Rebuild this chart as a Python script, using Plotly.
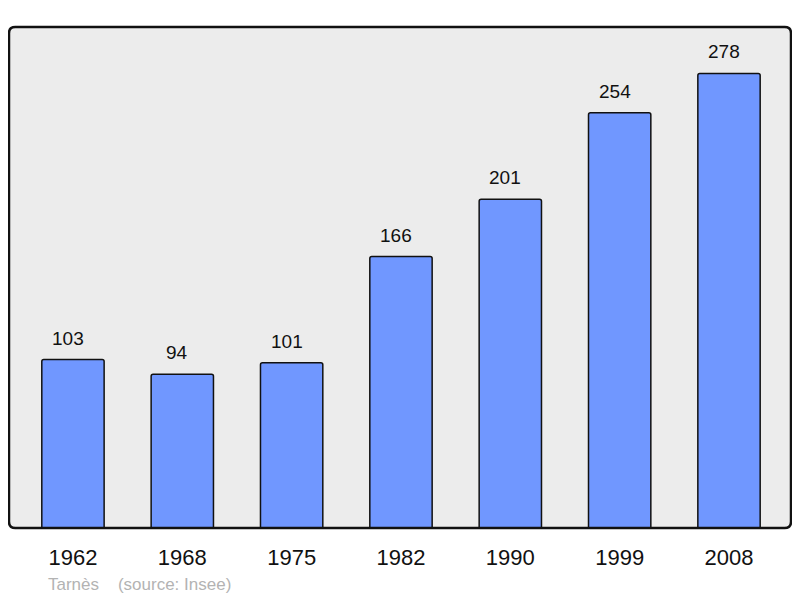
import plotly.graph_objects as go

years = ["1962", "1968", "1975", "1982", "1990", "1999", "2008"]
population = [103, 94, 101, 166, 201, 254, 278]
source_text = "Tarnès\u00a0\u00a0\u00a0\u00a0(source: Insee)"

FONT = "Liberation Sans, Arial, sans-serif"

fig = go.Figure()
fig.add_trace(go.Bar(
    x=list(range(len(years))),
    y=population,
    width=0.57,
    marker=dict(color="#7097ff", line=dict(color="#111111", width=1.5), cornerradius=2),
    hoverinfo="skip",
))

for i, v in enumerate(population):
    fig.add_annotation(x=i, y=v, text=str(v), showarrow=False,
                       yanchor="bottom", yshift=9, xshift=-5,
                       font=dict(family=FONT, size=19, color="#111111"))

fig.add_annotation(xref="paper", yref="paper", x=0.047, y=-0.112,
                   xanchor="left", yanchor="middle", text=source_text, showarrow=False,
                   font=dict(family=FONT, size=17, color="#b3b3b3"))

# rounded border around plot area
rx = 0.008
ry = rx * 782 / 501
fig.add_shape(type="path", xref="paper", yref="paper",
              path=(f"M {rx},0 L {1-rx},0 Q 1,0 1,{ry} L 1,{1-ry} Q 1,1 {1-rx},1 "
                    f"L {rx},1 Q 0,1 0,{1-ry} L 0,{ry} Q 0,0 {rx},0 Z"),
              line=dict(color="#111111", width=2.5), layer="above")

fig.update_layout(
    width=792, height=590,
    margin=dict(l=1, r=9, t=19, b=70),
    paper_bgcolor="white",
    plot_bgcolor="#ececec",
    showlegend=False,
    font=dict(family=FONT),
    xaxis=dict(range=[-0.585, 6.567], tickmode="array", tickvals=list(range(len(years))),
               ticktext=years, showgrid=False, zeroline=False, showline=False,
               ticks="outside", ticklen=10, tickcolor="rgba(0,0,0,0)",
               tickfont=dict(family=FONT, size=22, color="#111111")),
    yaxis=dict(range=[0, 306.4], showgrid=False, zeroline=False, showticklabels=False,
               showline=False),
)

fig.write_html("out.html")
